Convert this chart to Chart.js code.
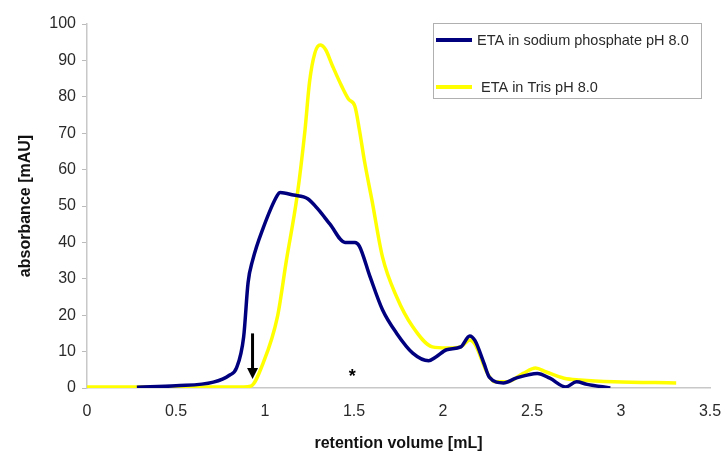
<!DOCTYPE html>
<html>
<head>
<meta charset="utf-8">
<script src="https://cdn.jsdelivr.net/npm/chart.js@4/dist/chart.umd.min.js"></script>
<style>
  html, body { margin: 0; padding: 0; background: #fff; }
  #wrap { width: 724px; height: 459px; }
</style>
</head>
<body>
<div id="wrap"><canvas id="chart" width="724" height="459"></canvas></div>
<script>
// retention volume [mL] / absorbance [mAU]
const phosphateX = [0.28, 0.5, 0.71, 0.8, 0.84, 0.88, 0.905, 0.93, 0.99, 1.07, 1.085, 1.16, 1.24, 1.3, 1.365, 1.45, 1.505, 1.53, 1.59, 1.66, 1.74, 1.83, 1.92, 1.96, 2.02, 2.1, 2.15, 2.18, 2.23, 2.26, 2.34, 2.41, 2.53, 2.6, 2.69, 2.75, 2.81, 2.94];
const phosphateY = [0.2, 0.6, 1.6, 3.5, 5.5, 14, 29, 35, 44, 53, 53.7, 53, 52, 49, 45, 40, 40, 39, 30.6, 21.5, 15, 9.6, 7.5, 8.5, 10.5, 11.3, 14.3, 13, 6.8, 3, 1.4, 2.7, 4, 2.7, 0.3, 1.7, 1, 0];

const trisX = [0, 0.5, 0.88, 0.92, 0.99, 1.07, 1.12, 1.18, 1.225, 1.25, 1.28, 1.31, 1.34, 1.38, 1.43, 1.47, 1.505, 1.53, 1.56, 1.6, 1.66, 1.74, 1.83, 1.94, 2.02, 2.1, 2.15, 2.18, 2.25, 2.29, 2.36, 2.45, 2.52, 2.58, 2.68, 2.77, 2.96, 3.31];
const trisY = [0.3, 0.3, 0.3, 0.5, 6.9, 19.6, 35, 52.6, 71, 84, 92, 94.2, 93, 88.4, 83, 79.3, 77.4, 71, 62, 51.8, 36, 25, 16.8, 11.3, 11, 11.3, 13.2, 12, 4, 1.7, 1.7, 4, 5.5, 4.4, 2.7, 2.2, 1.7, 1.4];

const seriesLabels = ['ETA in sodium phosphate pH 8.0', 'ETA in Tris pH 8.0'];
const xTicks = [0, 0.5, 1, 1.5, 2, 2.5, 3, 3.5];
const yTicks = [0, 10, 20, 30, 40, 50, 60, 70, 80, 90, 100];

// annotations in data units: arrow (x, from y, to y) and star (x, y)
const arrowMark = [0.93, 15, 2.5];
const starMark = [1.49, 3.8];

const toPoints = (xs, ys) => xs.map((x, i) => ({ x: x, y: ys[i] }));

const colors = ['#00007f', '#ffff00'];
const FONT = '"Liberation Sans", Arial, sans-serif';

const annotations = {
  id: 'annotations',
  afterDatasetsDraw(chart) {
    const { ctx, scales: { x, y } } = chart;
    ctx.save();
    // arrow
    const ax = x.getPixelForValue(arrowMark[0]);
    const y1 = y.getPixelForValue(arrowMark[1]);
    const y2 = y.getPixelForValue(arrowMark[2]);
    ctx.strokeStyle = '#000';
    ctx.fillStyle = '#000';
    ctx.lineWidth = 3;
    ctx.beginPath();
    ctx.moveTo(ax, y1);
    ctx.lineTo(ax, y2 - 8);
    ctx.stroke();
    ctx.beginPath();
    ctx.moveTo(ax - 5.5, y2 - 11);
    ctx.lineTo(ax + 5.5, y2 - 11);
    ctx.lineTo(ax, y2);
    ctx.closePath();
    ctx.fill();
    // star
    ctx.font = 'bold 18px ' + FONT;
    ctx.textAlign = 'center';
    ctx.textBaseline = 'middle';
    ctx.fillText('*', x.getPixelForValue(starMark[0]), y.getPixelForValue(starMark[1]) + 3);
    ctx.restore();
  }
};

const boxLegend = {
  id: 'boxLegend',
  afterDraw(chart) {
    const { ctx } = chart;
    const left = 433, top = 23, w = 268, h = 75;
    ctx.save();
    ctx.fillStyle = '#fff';
    ctx.fillRect(left, top, w, h);
    ctx.strokeStyle = '#b0b0b0';
    ctx.lineWidth = 1;
    ctx.strokeRect(left + 0.5, top + 0.5, w, h);
    ctx.font = '14.5px ' + FONT;
    ctx.textBaseline = 'middle';
    ctx.textAlign = 'left';
    const rows = [40, 87];
    const textX = [477, 481];
    chart.data.datasets.forEach((ds, i) => {
      ctx.strokeStyle = ds.borderColor;
      ctx.lineWidth = 4;
      ctx.beginPath();
      ctx.moveTo(436, rows[i]);
      ctx.lineTo(472, rows[i]);
      ctx.stroke();
      ctx.fillStyle = '#2a2a2a';
      ctx.fillText(ds.label, textX[i], rows[i] + 1);
    });
    ctx.restore();
  }
};

new Chart(document.getElementById('chart').getContext('2d'), {
  type: 'line',
  data: {
    datasets: [
      {
        label: seriesLabels[0],
        data: toPoints(phosphateX, phosphateY),
        borderColor: colors[0],
        borderWidth: 3.5,
        pointRadius: 0,
        cubicInterpolationMode: 'monotone',
        fill: false
      },
      {
        label: seriesLabels[1],
        data: toPoints(trisX, trisY),
        borderColor: colors[1],
        borderWidth: 3.5,
        pointRadius: 0,
        cubicInterpolationMode: 'monotone',
        fill: false
      }
    ]
  },
  options: {
    responsive: false,
    animation: false,
    layout: { padding: { top: 24, right: 14, bottom: 2, left: 0 } },
    plugins: {
      legend: { display: false },
      tooltip: { enabled: false }
    },
    scales: {
      x: {
        type: 'linear',
        min: 0,
        max: 3.5,
        afterBuildTicks: axis => { axis.ticks = xTicks.map(v => ({ value: v })); },
        afterFit: axis => {
          axis.height = 69;
          axis.paddingLeft = 0;
          axis.paddingRight = 0;
        },
        grid: { display: false, drawOnChartArea: false, drawTicks: true, tickLength: 5, color: '#bbb' },
        border: { color: '#c8c8c8', width: 1.5 },
        ticks: {
          color: '#2a2a2a',
          font: { family: FONT, size: 16 },
          padding: 9,
          maxRotation: 0,
          callback: v => String(v)
        },
        title: {
          display: true,
          text: 'retention volume [mL]',
          color: '#111',
          font: { family: FONT, size: 16, weight: 'bold' },
          padding: { top: 17 }
        }
      },
      y: {
        type: 'linear',
        min: 0,
        max: 100,
        afterBuildTicks: axis => { axis.ticks = yTicks.map(v => ({ value: v })); },
        afterFit: axis => { axis.width = 87; },
        grid: { display: true, drawOnChartArea: false, drawTicks: true, tickLength: 5, color: '#bbb' },
        border: { color: '#c8c8c8', width: 1.5 },
        ticks: {
          color: '#2a2a2a',
          font: { family: FONT, size: 16 },
          padding: 6
        },
        title: {
          display: true,
          text: 'absorbance [mAU]',
          color: '#111',
          font: { family: FONT, size: 16, weight: 'bold' },
          padding: { top: 16, bottom: 0 }
        }
      }
    }
  },
  plugins: [annotations, boxLegend]
});
</script>
</body>
</html>
